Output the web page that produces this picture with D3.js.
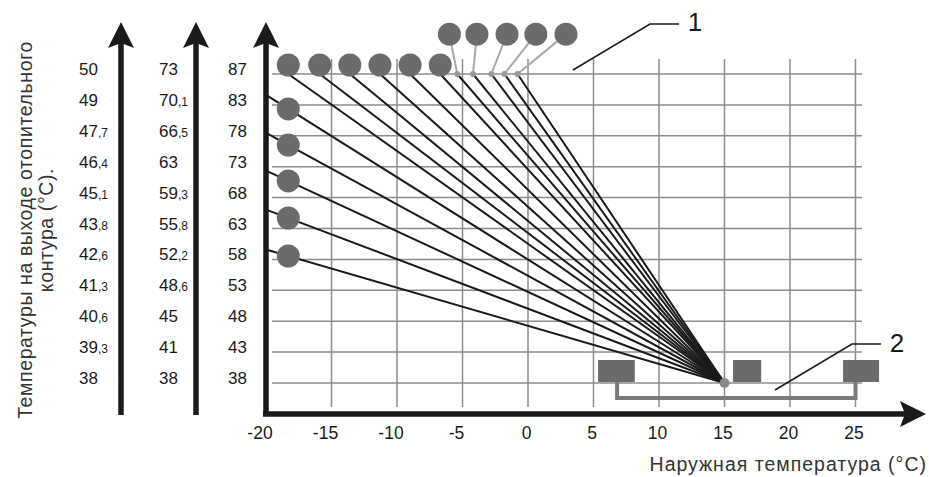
<!DOCTYPE html>
<html>
<head>
<meta charset="utf-8">
<script src="https://cdn.jsdelivr.net/npm/d3@7"></script>
<style>
  body { margin: 0; background: #fff; }
  svg { display: block; font-family: "Liberation Sans", Arial, sans-serif; }
</style>
</head>
<body>
<svg id="chart" width="929" height="477"></svg>
<script>
// outdoor temperature ticks (°C)
const outdoorTicks = [-20, -15, -10, -5, 0, 5, 10, 15, 20, 25];
// flow temperature columns, top row first
const flowColA = ['50', '49', '47,7', '46,4', '45,1', '43,8', '42,6', '41,3', '40,6', '39,3', '38'];
const flowColB = ['73', '70,1', '66,5', '63', '59,3', '55,8', '52,2', '48,6', '45', '41', '38'];
const flowColC = ['87', '83', '78', '73', '68', '63', '58', '53', '48', '43', '38'];

// all curves meet here: outdoor 15 °C, bottom row (38)
const pivot = [15, 0];
// curves crossing the left axis, knob position (outdoor, row from bottom)
const leftKnobX = -18.3;
const leftKnobRows = [8.87, 7.70, 6.54, 5.34, 4.11];
// curves starting on the top row
const topStarts = [-18.3, -15.9, -13.6, -11.3, -9.0, -6.7];
// steepest curves: start on top row, knob drawn above
const upperStarts = [-5.4, -4.2, -2.8, -1.8, -0.8];
const upperKnobs = [-6.0, -3.9, -1.6, 0.6, 2.9];
const upperKnobRow = 11.29;

// sensor block (item 2): boxes as [from, to] in outdoor °C, bracket ends
const sensorRects = [[5.35, 8.15], [15.65, 17.8], [24.05, 26.8]];
const bracketEnds = [6.8, 25];

const svg = d3.select('#chart');
const x = d3.scaleLinear().domain([-20, 25]).range([266, 855.5]);
const y = d3.scaleLinear().domain([0, 10]).range([383, 74]);

const dark = '#1a1a1a', knob = '#6b6b6b', grid = '#8c8c8c';

// grid
var g = svg.append('g');
g.selectAll('line.h').data(d3.range(0, 11)).enter().append('line')
    .attr('x1', 272).attr('x2', 862)
    .attr('y1', d => y(d)).attr('y2', d => y(d))
    .attr('stroke', grid).attr('stroke-width', 1.5);
g.selectAll('line.v').data(outdoorTicks.slice(1)).enter().append('line')
    .attr('x1', d => x(d)).attr('x2', d => x(d))
    .attr('y1', 59).attr('y2', 407)
    .attr('stroke', grid).attr('stroke-width', 1.5);

// arrow helper (vertical up or horizontal right)
function arrow(x1, y1, x2, y2) {
    var horiz = y1 === y2;
    svg.append('line')
        .attr('x1', x1).attr('y1', y1)
        .attr('x2', horiz ? x2 - 20 : x2).attr('y2', horiz ? y2 : y2 + 20)
        .attr('stroke', dark).attr('stroke-width', 5.5);
    var p = horiz
        ? [[x2, y2], [x2 - 26, y2 - 13], [x2 - 21, y2], [x2 - 26, y2 + 13]]
        : [[x2, y2], [x2 + 13, y2 + 26], [x2, y2 + 21], [x2 - 13, y2 + 26]];
    svg.append('path').attr('d', 'M' + p.join('L') + 'Z').attr('fill', dark);
}
arrow(121, 415, 121, 22);
arrow(196, 415, 196, 22);
arrow(266, 416, 266, 22);
arrow(263, 414, 926, 414);

// heating curves
var curves = [];
leftKnobRows.forEach(function (r) {
    var rowAtAxis = r * (pivot[0] - (-20)) / (pivot[0] - leftKnobX);
    curves.push([[-20, rowAtAxis], pivot]);
});
topStarts.concat(upperStarts).forEach(function (s) {
    curves.push([[s, 10], pivot]);
});
svg.append('g').selectAll('line').data(curves).enter().append('line')
    .attr('x1', d => x(d[0][0])).attr('y1', d => y(d[0][1]))
    .attr('x2', d => x(d[1][0])).attr('y2', d => y(d[1][1]))
    .attr('stroke', dark).attr('stroke-width', 2);

// knob connectors for upper curves
svg.append('g').selectAll('line').data(upperStarts).enter().append('line')
    .attr('x1', (d, i) => x(upperKnobs[i])).attr('y1', y(upperKnobRow))
    .attr('x2', d => x(d)).attr('y2', y(10))
    .attr('stroke', '#a8a8a8').attr('stroke-width', 2);
svg.append('g').selectAll('circle').data(upperStarts).enter().append('circle')
    .attr('cx', d => x(d)).attr('cy', y(10)).attr('r', 3)
    .attr('fill', '#9a9a9a');

// knobs
var knobs = leftKnobRows.map(r => [leftKnobX, r, 0])
    .concat(topStarts.map(s => [s, 10, 9]))
    .concat(upperKnobs.map(s => [s, upperKnobRow, 0]));
svg.append('g').selectAll('circle').data(knobs).enter().append('circle')
    .attr('cx', d => x(d[0])).attr('cy', d => y(d[1]) - d[2]).attr('r', 11.5)
    .attr('fill', knob);

// pivot dot
svg.append('circle').attr('cx', x(pivot[0])).attr('cy', y(pivot[1])).attr('r', 5).attr('fill', '#8a8a8a');

// sensor block (2)
svg.append('path')
    .attr('d', 'M' + x(bracketEnds[0]) + ',' + (y(0) - 2) + 'V398H' + x(bracketEnds[1]) + 'V' + (y(0) - 2))
    .attr('fill', 'none').attr('stroke', '#7a7a7a').attr('stroke-width', 4);
svg.append('g').selectAll('rect').data(sensorRects).enter().append('rect')
    .attr('x', d => x(d[0])).attr('width', d => x(d[1]) - x(d[0]))
    .attr('y', 360).attr('height', 22).attr('fill', '#6b6b6b');

// callouts
svg.append('path').attr('d', 'M573,70L650,24H679').attr('fill', 'none').attr('stroke', dark).attr('stroke-width', 1.5);
svg.append('path').attr('d', 'M775,390L852,344H881').attr('fill', 'none').attr('stroke', dark).attr('stroke-width', 1.5);
svg.append('text').attr('x', 695).attr('y', 31).attr('text-anchor', 'middle')
    .attr('font-size', 26).attr('fill', dark).text('1');
svg.append('text').attr('x', 897).attr('y', 352).attr('text-anchor', 'middle')
    .attr('font-size', 26).attr('fill', dark).text('2');

// flow temperature labels
function column(labels, left) {
    var t = svg.append('g').selectAll('text').data(labels).enter().append('text')
        .attr('x', left).attr('y', (d, i) => y(10 - i) + 1)
        .attr('font-size', 17).attr('fill', dark);
    t.each(function (d) {
        var parts = d.split(',');
        var el = d3.select(this);
        el.append('tspan').text(parts[0]);
        if (parts.length > 1) el.append('tspan').attr('font-size', 12).text(',' + parts[1]);
    });
}
column(flowColA, 79);
column(flowColB, 159);
column(flowColC, 228);

// outdoor tick labels
svg.append('g').selectAll('text').data(outdoorTicks).enter().append('text')
    .attr('x', d => x(d) - (d < 0 ? 6 : 1.5)).attr('y', 439)
    .attr('text-anchor', 'middle').attr('font-size', 17.5).attr('fill', dark)
    .text(d => d);

// axis titles
svg.append('text').attr('x', 927).attr('y', 471).attr('text-anchor', 'end')
    .attr('font-size', 19.5).attr('letter-spacing', 1).attr('fill', '#333')
    .text('Наружная температура (°C)');
var yt = svg.append('text').attr('transform', 'translate(32,230) rotate(-90)')
    .attr('text-anchor', 'middle').attr('font-size', 19.5).attr('letter-spacing', 0.6)
    .attr('fill', '#333');
yt.append('tspan').attr('x', 0).attr('y', 0).text('Температуры на выходе отопительного');
yt.append('tspan').attr('x', 0).attr('y', 21).text('контура (°C).');
</script>
</body>
</html>
